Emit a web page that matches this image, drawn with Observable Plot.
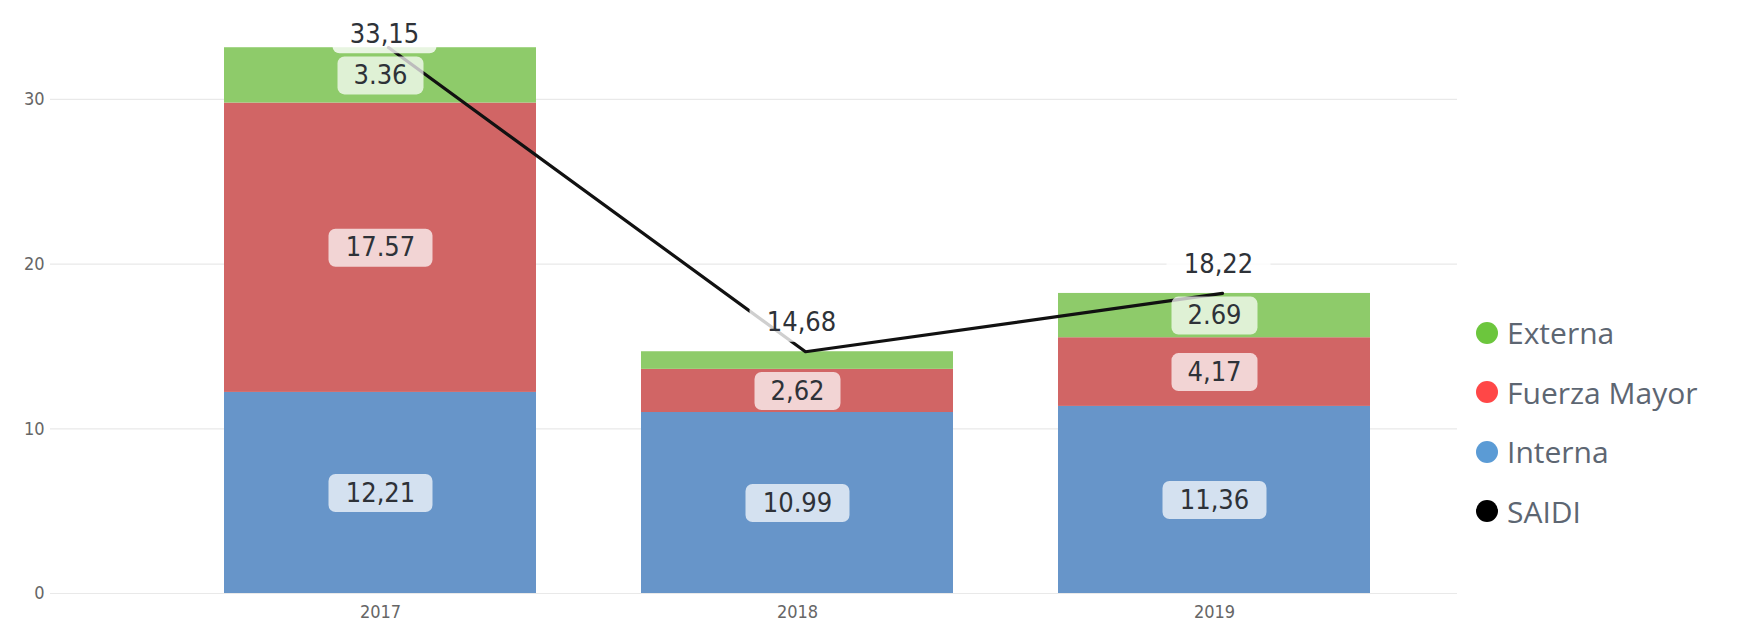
<!DOCTYPE html>
<html>
<head>
<meta charset="utf-8">
<script src="https://cdn.jsdelivr.net/npm/d3@7"></script>
<script src="https://cdn.jsdelivr.net/npm/@observablehq/plot@0.6"></script>
<style>
  html, body { margin: 0; padding: 0; background: #ffffff; }
  #wrap { position: relative; width: 1748px; height: 626px; overflow: hidden; }
  #legend { position: absolute; left: 1476px; top: 303px; font-family: "Open Sans", sans-serif; font-size: 30px; color: #5d6672; }
  .item { display: flex; align-items: center; height: 59.5px; white-space: nowrap; }
  .sw { width: 22px; height: 22px; border-radius: 50%; margin-right: 9px; flex: none; }
</style>
</head>
<body>
<div id="wrap"></div>
<script>
// ---- data ----
const years = ["2017", "2018", "2019"];
const causes = ["Interna", "Fuerza Mayor", "Externa"];
const interna = [12.21, 10.99, 11.36];
const fuerzaMayor = [17.57, 2.62, 4.17];
const externa = [3.36, 1.07, 2.69];
const saidi = [33.15, 14.68, 18.22];
const internaLabels = ["12,21", "10.99", "11,36"];
const fuerzaLabels = ["17.57", "2,62", "4,17"];
const externaLabels = ["3.36", "", "2.69"];
const saidiLabels = ["33,15", "14,68", "18,22"];
const yTicks = [0, 10, 20, 30];
const legendNames = ["Externa", "Fuerza Mayor", "Interna", "SAIDI"];

// ---- styles ----
const barColors = ["#6795c9", "#d16565", "#8ecb6a"];
const legendColors = ["#6cc63d", "#ff4747", "#5b9bd5", "#000000"];
const labelFont = '"DejaVu Sans Condensed", "DejaVu Sans", sans-serif';

// ---- build tables ----
const seriesVals = [interna, fuerzaMayor, externa];
const seriesLabels = [internaLabels, fuerzaLabels, externaLabels];
const segs = [];
years.forEach((yr, i) => {
  let base = 0;
  causes.forEach((c, k) => {
    const v = seriesVals[k][i];
    segs.push({year: yr, cause: c, value: v, y1: base, y2: base + v, label: seriesLabels[k][i]});
    base += v;
  });
});
const totals = years.map((yr, i) => ({year: yr, total: saidi[i], label: saidiLabels[i]}));
const yMax = 35;

function roundedBox(w, h, r) {
  return {
    draw(ctx) {
      const x0 = -w / 2, y0 = -h / 2, x1 = w / 2, y1 = h / 2;
      ctx.moveTo(x0 + r, y0);
      ctx.lineTo(x1 - r, y0);
      ctx.arcTo(x1, y0, x1, y0 + r, r);
      ctx.lineTo(x1, y1 - r);
      ctx.arcTo(x1, y1, x1 - r, y1, r);
      ctx.lineTo(x0 + r, y1);
      ctx.arcTo(x0, y1, x0, y1 - r, r);
      ctx.lineTo(x0, y0 + r);
      ctx.arcTo(x0, y0, x0 + r, y0, r);
      ctx.closePath();
    }
  };
}
const box5 = roundedBox(104, 38, 7);
const box4 = roundedBox(86, 38, 7);
const mid = d => (d.y1 + d.y2) / 2;
const totalY = d => Math.min(d.total, yMax - 2.8);

const chart = Plot.plot({
  width: 1748,
  height: 626,
  marginLeft: 50,
  marginRight: 291,
  marginTop: 16.6,
  marginBottom: 33,
  style: {background: "transparent", fontFamily: labelFont},
  x: {domain: years, paddingInner: 0.252, paddingOuter: 0.313, align: 0.666, label: null},
  y: {domain: [0, yMax], label: null},
  color: {domain: causes, range: barColors},
  marks: [
    Plot.gridY(yTicks, {stroke: "#e9e9e9", strokeOpacity: 1, strokeWidth: 1.2}),
    Plot.axisY(yTicks, {tickSize: 0, tickPadding: 6, fontSize: 18, fill: "#666", label: null}),
    Plot.axisX({tickSize: 0, tickPadding: 12, fontSize: 18, fill: "#666", label: null}),
    Plot.rectY(segs, {x: "year", y1: "y1", y2: "y2", fill: "cause"}),
    Plot.line(totals, {x: "year", y: "total", stroke: "#111", strokeWidth: 3.2, dx: 8}),
    Plot.dot(segs, {filter: d => d.label.length === 5, x: "year", y: mid, symbol: box5, fill: "white", fillOpacity: 0.72, stroke: "none"}),
    Plot.dot(segs, {filter: d => d.label.length === 4, x: "year", y: mid, symbol: box4, fill: "white", fillOpacity: 0.72, stroke: "none"}),
    Plot.text(segs, {filter: d => d.label !== "", x: "year", y: mid, text: "label", fontSize: 27, fill: "#2e3238", fontFamily: labelFont}),
    Plot.dot(totals, {x: "year", y: totalY, dy: -29, dx: 4, symbol: box5, fill: "white", fillOpacity: 0.8, stroke: "none"}),
    Plot.text(totals, {x: "year", y: totalY, dy: -29, dx: 4, text: "label", fontSize: 27, fill: "#2e3238", fontFamily: labelFont})
  ]
});

const wrap = document.getElementById("wrap");
wrap.append(chart);

const legend = document.createElement("div");
legend.id = "legend";
legendNames.forEach((name, i) => {
  const item = document.createElement("div");
  item.className = "item";
  const sw = document.createElement("span");
  sw.className = "sw";
  sw.style.background = legendColors[i];
  const t = document.createElement("span");
  t.textContent = name;
  item.append(sw, t);
  legend.append(item);
});
wrap.append(legend);
</script>
</body>
</html>
